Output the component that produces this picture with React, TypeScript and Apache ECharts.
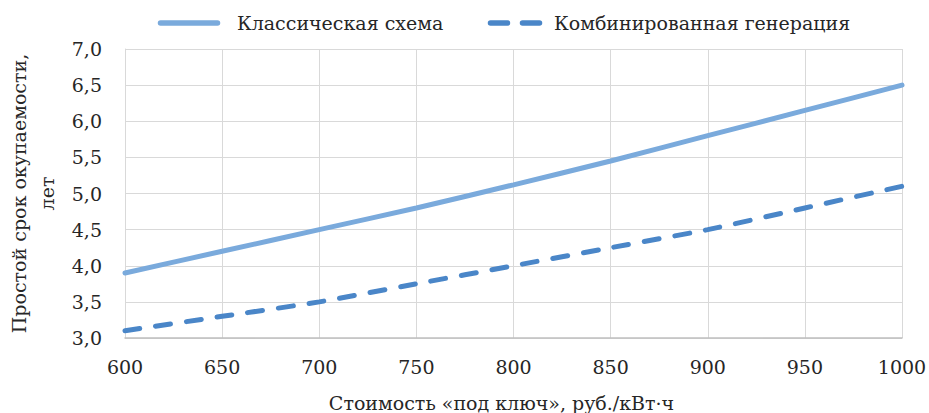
import React, { useEffect, useRef } from "react";
import * as echarts from "echarts";

const xValues = [600, 650, 700, 750, 800, 850, 900, 950, 1000];
const classicValues = [3.9, 4.2, 4.5, 4.8, 5.12, 5.45, 5.8, 6.15, 6.5];
const combinedValues = [3.1, 3.3, 3.5, 3.75, 4.0, 4.25, 4.5, 4.8, 5.1];
const seriesNames = ["Классическая схема", "Комбинированная генерация"];
const xAxisTitle = "Стоимость «под ключ», руб./кВт·ч";
const yAxisTitle = "Простой срок окупаемости,\nлет";

const FONT = "DejaVu Serif";
const TEXT = "#262626";
const C1 = "#7aaadc";
const C2 = "#4a86c8";

export default function App() {
  const ref = useRef<HTMLDivElement>(null);
  useEffect(() => {
    if (!ref.current) return;
    const chart = echarts.init(ref.current, null, { renderer: "svg" });
    const ly = 23;
    chart.setOption({
      animation: false,
      textStyle: { fontFamily: FONT, color: TEXT },
      graphic: [
        { type: "line", shape: { x1: 160.5, y1: ly, x2: 217.5, y2: ly }, style: { stroke: C1, lineWidth: 5.5, lineCap: "round" } },
        { type: "text", x: 237, y: ly, style: { text: seriesNames[0], fontFamily: FONT, fontSize: 19, fill: TEXT, verticalAlign: "middle", align: "left" } },
        { type: "line", shape: { x1: 490.5, y1: ly, x2: 507.5, y2: ly }, style: { stroke: C2, lineWidth: 5.5, lineCap: "round" } },
        { type: "line", shape: { x1: 522.5, y1: ly, x2: 539.5, y2: ly }, style: { stroke: C2, lineWidth: 5.5, lineCap: "round" } },
        { type: "text", x: 554, y: ly, style: { text: seriesNames[1], fontFamily: FONT, fontSize: 19, fill: TEXT, verticalAlign: "middle", align: "left" } },
      ],
      grid: { left: 125, right: 27, top: 49, bottom: 75, outerBoundsMode: "none", containLabel: false },
      xAxis: {
        type: "value",
        min: 600,
        max: 1000,
        interval: 50,
        name: xAxisTitle,
        nameLocation: "middle",
        nameGap: 55,
        nameTextStyle: { fontFamily: FONT, fontSize: 19, color: TEXT, padding: [0, 24, 0, 0] },
        axisLine: { show: true, lineStyle: { color: "#bfbfbf", width: 1.5 } },
        axisTick: { show: false },
        axisLabel: { fontFamily: FONT, fontSize: 19, color: TEXT, margin: 19, formatter: (v: number) => String(v) },
        splitLine: { show: true, lineStyle: { color: "#d9d9d9", width: 1 } },
      },
      yAxis: {
        type: "value",
        min: 3,
        max: 7,
        interval: 0.5,
        name: yAxisTitle,
        nameLocation: "middle",
        nameGap: 62,
        nameRotate: 90,
        nameTextStyle: { fontFamily: FONT, fontSize: 19, color: TEXT, lineHeight: 28 },
        axisLine: { show: true, lineStyle: { color: "#d9d9d9", width: 1 } },
        axisTick: { show: false },
        axisLabel: {
          fontFamily: FONT,
          fontSize: 19,
          color: TEXT,
          margin: 23,
          formatter: (v: number) => v.toFixed(1).replace(".", ","),
        },
        splitLine: { show: true, lineStyle: { color: "#d9d9d9", width: 1 } },
      },
      series: [
        {
          name: seriesNames[0],
          type: "line",
          symbol: "none",
          smooth: 0.2,
          data: xValues.map((x, i) => [x, classicValues[i]]),
          lineStyle: { color: C1, width: 5, cap: "round" },
          itemStyle: { color: C1 },
        },
        {
          name: seriesNames[1],
          type: "line",
          symbol: "none",
          smooth: 0.2,
          data: xValues.map((x, i) => [x, combinedValues[i]]),
          lineStyle: { color: C2, width: 5, type: [15, 16], cap: "round" },
          itemStyle: { color: C2 },
        },
      ],
    });
    return () => chart.dispose();
  }, []);
  return <div ref={ref} style={{ width: 929, height: 413, position: "absolute", left: 0, top: 0 }} />;
}
